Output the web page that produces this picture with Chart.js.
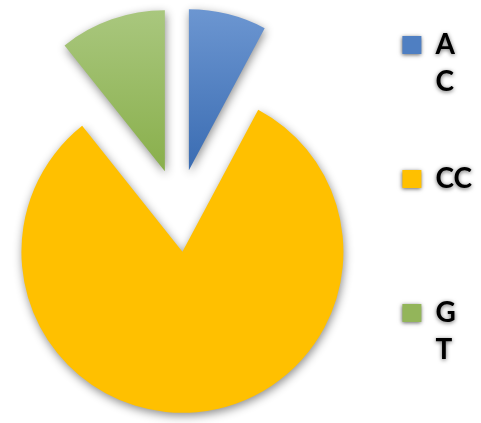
<!DOCTYPE html>
<html>
<head>
<meta charset="utf-8">
<script src="https://cdn.jsdelivr.net/npm/chart.js@4/dist/chart.umd.min.js"></script>
<style>
  html, body { margin: 0; padding: 0; background: #ffffff; overflow: hidden; }
  #wrap { width: 481px; height: 423px; overflow: hidden; position: relative; }
  #chart { position: absolute; left: -22px; top: 0; }
</style>
</head>
<body>
<div id="wrap"><canvas id="chart" width="504" height="423"></canvas></div>
<script>
// Genotype shares (%), drawn clockwise from 12 o'clock
const categories = ['AC', 'CC', 'GT'];
const shares = [7.8, 81.5, 10.7];
// Legend text, one entry per line
const legendLines = [['A', 'C'], ['CC'], ['G', 'T']];

const PIE_RADIUS = 161;
const EXPLODE = [42, 41, 42];

const sliceTop = ['#6C96D1', '#FFC000', '#A9C77E'];
const sliceBottom = ['#3A6CB2', '#FFC000', '#89AF4B'];
const legendFill = ['#4F7FC2', '#FFC000', '#93B55A'];

// Arc that is pulled straight out along its bisector, keeping its radius and angles
class ExplodedArc extends Chart.ArcElement {
  static id = 'explodedArc';
  draw(ctx) {
    const opts = this.options;
    const shift = opts.offset || 0;
    const mid = (this.startAngle + this.endAngle) / 2;
    ctx.save();
    ctx.translate(Math.cos(mid) * shift, Math.sin(mid) * shift);
    this.options = Object.assign({}, opts, {offset: 0});
    super.draw(ctx);
    this.options = opts;
    ctx.restore();
  }
}

class ExplodedPieController extends Chart.PieController {
  static id = 'explodedPie';
  static defaults = {dataElementType: 'explodedArc'};
}

Chart.register(ExplodedArc, ExplodedPieController);

function sliceFill(context) {
  const i = context.dataIndex;
  const area = context.chart.chartArea;
  if (!area || sliceTop[i] === sliceBottom[i]) return sliceTop[i];
  const cy = (area.top + area.bottom) / 2;
  const g = context.chart.ctx.createLinearGradient(0, cy - PIE_RADIUS, 0, cy);
  g.addColorStop(0, sliceTop[i]);
  g.addColorStop(1, sliceBottom[i]);
  return g;
}

const shading = {
  id: 'shading',
  beforeDraw(chart) {
    const ctx = chart.ctx;
    ctx.save();
    ctx.shadowColor = 'rgba(0,0,0,0.6)';
    ctx.shadowBlur = 4;
    ctx.shadowOffsetX = 0;
    ctx.shadowOffsetY = 1;
  },
  beforeDatasetsDraw(chart) {
    const ctx = chart.ctx;
    ctx.restore();
    ctx.save();
    ctx.shadowColor = 'rgba(0,0,0,0.45)';
    ctx.shadowBlur = 10;
    ctx.shadowOffsetX = 1;
    ctx.shadowOffsetY = 3;
  },
  afterDatasetsDraw(chart) {
    chart.ctx.restore();
  }
};

new Chart(document.getElementById('chart'), {
  type: 'explodedPie',
  data: {
    labels: categories,
    datasets: [{
      data: shares,
      backgroundColor: sliceFill,
      borderWidth: 0,
      offset: EXPLODE,
      radius: PIE_RADIUS
    }]
  },
  options: {
    responsive: false,
    animation: false,
    layout: { padding: { left: 0, right: 0, top: 8, bottom: 9 } },
    plugins: {
      tooltip: { enabled: false },
      legend: {
        position: 'right',
        align: 'start',
        labels: {
          boxWidth: 19,
          boxHeight: 18,
          padding: 23,
          color: '#000000',
          font: { family: 'Lato', weight: 'bold', size: 28, lineHeight: '37px' },
          generateLabels(chart) {
            return categories.map((name, i) => {
              const lines = legendLines[i].slice();
              if (i < categories.length - 1) {
                while (lines.length < 3) lines.push('');
              }
              return {
                text: lines,
                fillStyle: legendFill[i],
                strokeStyle: legendFill[i],
                lineWidth: 0,
                fontColor: '#000000',
                hidden: !chart.getDataVisibility(i),
                index: i
              };
            });
          }
        }
      }
    }
  },
  plugins: [shading]
});
</script>
</body>
</html>
